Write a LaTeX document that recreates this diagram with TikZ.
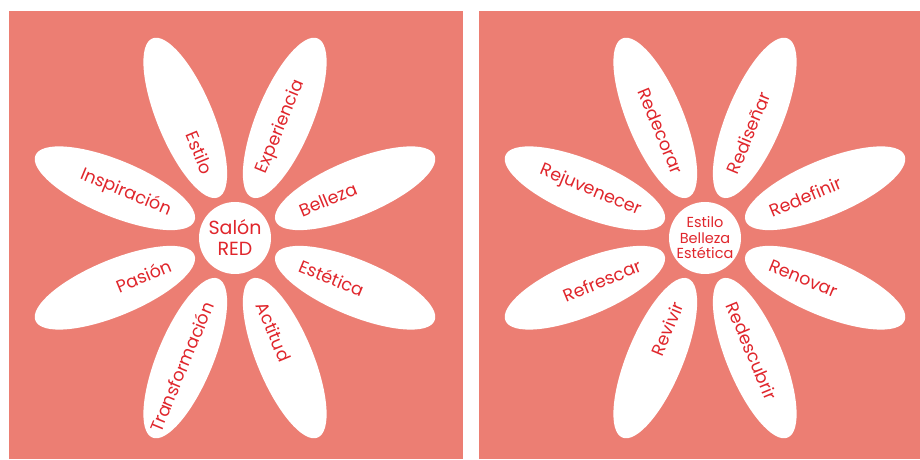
\documentclass[tikz,border=0pt]{standalone}
\usepackage{fontspec}
\setmainfont{Poppins}
\usepackage{xcolor}
\usetikzlibrary{shapes.geometric}
\definecolor{salonbg}{HTML}{EC7E73}
\definecolor{salonred}{HTML}{E0262C}
\tikzset{
  flpanel/.style={fill=salonbg,draw=none},
  flpetal/.style={
    ellipse, fill=white, draw=none, inner sep=0pt,
    minimum width=172pt, minimum height=56pt
  },
  flheart/.style={circle, fill=white, draw=none, minimum size=72pt, inner sep=0pt,
    text=salonred, align=center},
  flword/.style={text=salonred, font=\fontsize{17.5}{20}\selectfont, inner sep=0pt},
  flwordin/.style={flword,anchor=west},
  flwordout/.style={flword,anchor=east}
}
\begin{document}
\begin{tikzpicture}[x=1pt,y=1pt]
  \useasboundingbox (0,0) rectangle (920,460);
  \fill[flpanel] (9,1) rectangle (463,449);
  \fill[flpanel] (479,1) rectangle (920,449);
  % left flower
  \begin{scope}[shift={(235,222)}]
    \node[flpetal,rotate=22.5]  (pL1) at (22.5:130)  {};
    \node[flpetal,rotate=67.5]  (pL2) at (67.5:130)  {};
    \node[flpetal,rotate=112.5] (pL3) at (112.5:130) {};
    \node[flpetal,rotate=157.5] (pL4) at (157.5:130) {};
    \node[flpetal,rotate=202.5] (pL5) at (202.5:130) {};
    \node[flpetal,rotate=247.5] (pL6) at (247.5:130) {};
    \node[flpetal,rotate=292.5] (pL7) at (292.5:130) {};
    \node[flpetal,rotate=337.5] (pL8) at (337.5:130) {};
    \node[flheart,font=\fontsize{19}{21}\selectfont] (cL) at (0,0) {Salón\\RED};
    \node[flwordin,rotate=22.5]   (wL1) at (22.5:70)  {Belleza};
    \node[flwordin,rotate=67.5]   (wL2) at (67.5:70)  {Experiencia};
    \node[flwordout,rotate=-67.5] (wL3) at (112.5:70) {Estilo};
    \node[flwordout,rotate=-22.5] (wL4) at (157.5:70) {Inspiración};
    \node[flwordout,rotate=22.5]  (wL5) at (202.5:70) {Pasión};
    \node[flwordout,rotate=67.5]  (wL6) at (247.5:70) {Transformación};
    \node[flwordin,rotate=-67.5]  (wL7) at (292.5:70) {Actitud};
    \node[flwordin,rotate=-22.5]  (wL8) at (337.5:70) {Estética};
  \end{scope}
  % right flower
  \begin{scope}[shift={(705,222)}]
    \node[flpetal,rotate=22.5]  (pR1) at (22.5:130)  {};
    \node[flpetal,rotate=67.5]  (pR2) at (67.5:130)  {};
    \node[flpetal,rotate=112.5] (pR3) at (112.5:130) {};
    \node[flpetal,rotate=157.5] (pR4) at (157.5:130) {};
    \node[flpetal,rotate=202.5] (pR5) at (202.5:130) {};
    \node[flpetal,rotate=247.5] (pR6) at (247.5:130) {};
    \node[flpetal,rotate=292.5] (pR7) at (292.5:130) {};
    \node[flpetal,rotate=337.5] (pR8) at (337.5:130) {};
    \node[flheart,font=\fontsize{14.5}{15.5}\selectfont] (cR) at (0,0) {Estilo\\Belleza\\Estética};
    \node[flwordin,rotate=22.5]   (wR1) at (22.5:70)  {Redefinir};
    \node[flwordin,rotate=67.5]   (wR2) at (67.5:70)  {Rediseñar};
    \node[flwordout,rotate=-67.5] (wR3) at (112.5:70) {Redecorar};
    \node[flwordout,rotate=-22.5] (wR4) at (157.5:70) {Rejuvenecer};
    \node[flwordout,rotate=22.5]  (wR5) at (202.5:70) {Refrescar};
    \node[flwordout,rotate=67.5]  (wR6) at (247.5:70) {Revivir};
    \node[flwordin,rotate=-67.5]  (wR7) at (292.5:70) {Redescubrir};
    \node[flwordin,rotate=-22.5]  (wR8) at (337.5:70) {Renovar};
  \end{scope}
\end{tikzpicture}
\end{document}
